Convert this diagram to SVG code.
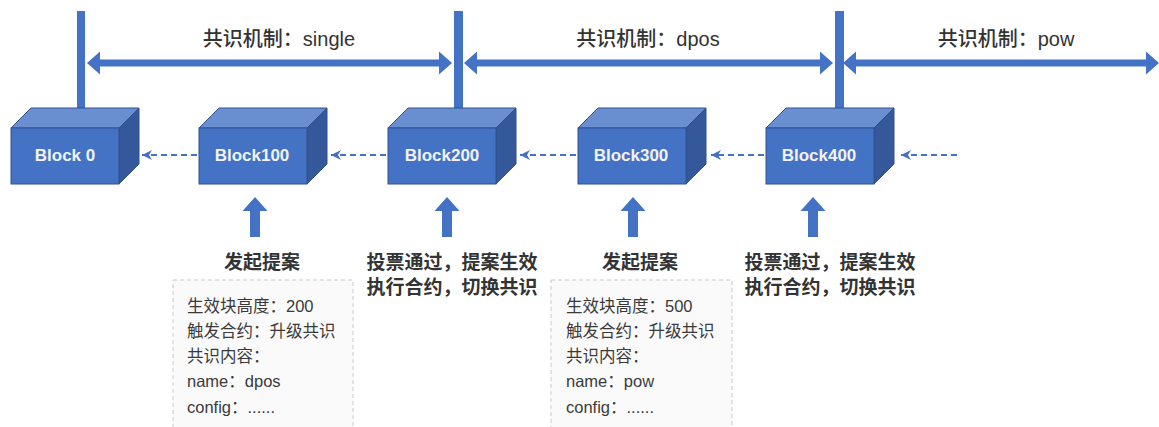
<svg xmlns="http://www.w3.org/2000/svg" width="1159" height="427" viewBox="0 0 1159 427">
<defs>
<style>
.front{fill:#4472C4;stroke:#2F528F;stroke-width:1}
.top{fill:#6A8FD0;stroke:#2F528F;stroke-width:1}
.side{fill:#34589A;stroke:#2F528F;stroke-width:1}
.blabel{font-family:"Liberation Sans",Arial,sans-serif;font-weight:bold;font-size:17px;fill:#F2F2F2;text-anchor:middle}
.title{font-family:"Liberation Sans","Noto Sans CJK SC",sans-serif;font-size:20px;fill:#333;text-anchor:middle;font-weight:500}
.note{font-family:"Liberation Sans","Noto Sans CJK SC",sans-serif;font-size:19px;font-weight:bold;fill:#333;text-anchor:middle}
.box{fill:#FAFAFA;stroke:#C8C8C8;stroke-width:1;stroke-dasharray:4 3}
.btxt{font-family:"Liberation Sans","Noto Sans CJK SC",sans-serif;font-size:16.5px;fill:#3A3A3A}
.dash{stroke:#4472C4;stroke-width:2;stroke-dasharray:6 4;fill:none}
.blue{fill:#4472C4}
</style>
<marker id="ah" markerWidth="12" markerHeight="12" refX="10" refY="5" orient="auto" markerUnits="userSpaceOnUse">
<path d="M0,0 L10,5 L0,10 L3,5 Z" fill="#4472C4"/>
</marker>
</defs>
<rect width="1159" height="427" fill="#FFFFFF"/>

<g id="dividers">
<rect class="blue" x="77" y="11" width="8" height="98"/>
<rect class="blue" x="454" y="11" width="9" height="98"/>
<rect class="blue" x="835" y="11" width="9" height="98"/>
</g>

<g id="spans">
<polygon class="blue" points="87,63 100,51.5 100,59.5 439,59.5 439,51.5 452,63 439,74.5 439,66.5 100,66.5 100,74.5"/>
<polygon class="blue" points="464,63 477,51.5 477,59.5 820,59.5 820,51.5 833,63 820,74.5 820,66.5 477,66.5 477,74.5"/>
<polygon class="blue" points="843,63 856,51.5 856,59.5 1146,59.5 1146,51.5 1159,63 1146,74.5 1146,66.5 856,66.5 856,74.5"/>
<text class="title" x="279" y="46">共识机制：single</text>
<text class="title" x="648" y="46">共识机制：dpos</text>
<text class="title" x="1006" y="46">共识机制：pow</text>
</g>

<g id="block0">
<polygon class="top" points="11,128 31,108 139,108 119,128"/>
<polygon class="side" points="119,128 139,108 139,164 119,184"/>
<rect class="front" x="11" y="128" width="108" height="56"/>
<text class="blabel" x="65" y="161">Block 0</text>
</g>
<g id="block100">
<polygon class="top" points="199,128 219,108 327,108 307,128"/>
<polygon class="side" points="307,128 327,108 327,164 307,184"/>
<rect class="front" x="199" y="128" width="108" height="56"/>
<text class="blabel" x="252" y="161">Block100</text>
</g>
<g id="block200">
<polygon class="top" points="388,128 408,108 516,108 496,128"/>
<polygon class="side" points="496,128 516,108 516,164 496,184"/>
<rect class="front" x="388" y="128" width="108" height="56"/>
<text class="blabel" x="442" y="161">Block200</text>
</g>
<g id="block300">
<polygon class="top" points="578,128 598,108 706,108 686,128"/>
<polygon class="side" points="686,128 706,108 706,164 686,184"/>
<rect class="front" x="578" y="128" width="108" height="56"/>
<text class="blabel" x="631" y="161">Block300</text>
</g>
<g id="block400">
<polygon class="top" points="766,128 786,108 894,108 874,128"/>
<polygon class="side" points="874,128 894,108 894,164 874,184"/>
<rect class="front" x="766" y="128" width="108" height="56"/>
<text class="blabel" x="819" y="161">Block400</text>
</g>

<g id="connectors">
<line class="dash" x1="197" y1="155" x2="142" y2="155" marker-end="url(#ah)"/>
<line class="dash" x1="386" y1="155" x2="331" y2="155" marker-end="url(#ah)"/>
<line class="dash" x1="576" y1="155" x2="520" y2="155" marker-end="url(#ah)"/>
<line class="dash" x1="764" y1="155" x2="711" y2="155" marker-end="url(#ah)"/>
<line class="dash" x1="957" y1="155" x2="901" y2="155" marker-end="url(#ah)"/>
<polygon class="blue" points="255,197 267.5,211 260,211 260,237 250,237 250,211 242.5,211"/>
<polygon class="blue" points="447,197 459.5,211 452,211 452,237 442,237 442,211 434.5,211"/>
<polygon class="blue" points="633,197 645.5,211 638,211 638,237 628,237 628,211 620.5,211"/>
<polygon class="blue" points="813,197 825.5,211 818,211 818,237 808,237 808,211 800.5,211"/>
</g>

<g id="proposal1">
<text class="note" x="262" y="269">发起提案</text>
<rect class="box" x="173" y="280" width="180" height="160"/>
<text class="btxt" x="187" y="312">生效块高度：200</text>
<text class="btxt" x="187" y="337">触发合约：升级共识</text>
<text class="btxt" x="187" y="362">共识内容：</text>
<text class="btxt" x="187" y="387">name：dpos</text>
<text class="btxt" x="187" y="413">config：......</text>
</g>
<g id="effect1">
<text class="note" x="452" y="269">投票通过，提案生效</text>
<text class="note" x="452" y="294">执行合约，切换共识</text>
</g>
<g id="proposal2">
<text class="note" x="640" y="269">发起提案</text>
<rect class="box" x="551" y="280" width="181" height="160"/>
<text class="btxt" x="566" y="312">生效块高度：500</text>
<text class="btxt" x="566" y="337">触发合约：升级共识</text>
<text class="btxt" x="566" y="362">共识内容：</text>
<text class="btxt" x="566" y="387">name：pow</text>
<text class="btxt" x="566" y="413">config：......</text>
</g>
<g id="effect2">
<text class="note" x="830" y="269">投票通过，提案生效</text>
<text class="note" x="830" y="294">执行合约，切换共识</text>
</g>
</svg>
